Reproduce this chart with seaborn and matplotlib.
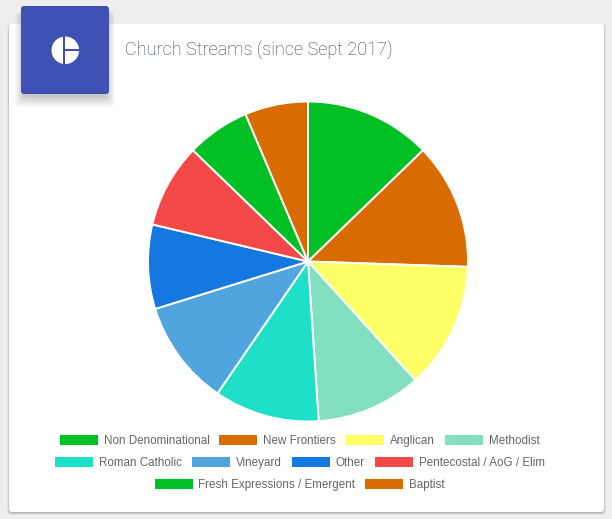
import seaborn as sns
import matplotlib.pyplot as plt
from matplotlib.patches import FancyBboxPatch, Circle, Rectangle

sns.set_theme(style="white")

streams = ['Non Denominational', 'New Frontiers', 'Anglican', 'Methodist',
           'Roman Catholic', 'Vineyard', 'Other', 'Pentecostal / AoG / Elim',
           'Fresh Expressions / Emergent', 'Baptist']
counts = [6, 6, 6, 5, 5, 5, 4, 4, 3, 3]
hex_colors = ['#00c024', '#d96c00', '#ffff66', '#82e0c0', '#1ee0c8',
              '#50a5de', '#1478e0', '#f24848', '#00c024', '#d96c00']
title = 'Church Streams (since Sept 2017)'

# legend layout in pixels: swatch left, text left, row
swatch_x = [60, 219, 346, 445, 55, 192, 292, 375, 155, 365]
text_x = [104, 263, 390, 489, 99, 236, 336, 419, 198, 409]
row_y = [440, 440, 440, 440, 462, 462, 462, 462, 484, 484]

W, H = 612, 519
palette = sns.color_palette(hex_colors)

fig = plt.figure(figsize=(W / 100, H / 100), dpi=100, facecolor='#eeeeee')

# page layer, coordinates are pixels of the picture
bg = fig.add_axes([0, 0, 1, 1], zorder=0)
bg.set_xlim(0, W)
bg.set_ylim(H, 0)
bg.axis('off')

for i in range(5):
    bg.add_patch(FancyBboxPatch((9 - i * 0.4, 25 - i * 0.2), 595 + i * 0.8, 488 + i * 0.6,
                                boxstyle='round,pad=0,rounding_size=4', fc='black', ec='none', alpha=0.05))
bg.add_patch(FancyBboxPatch((9, 24), 595, 488, boxstyle='round,pad=0,rounding_size=3', fc='white', ec='none'))

# soft shadow under the blue tile
for i in range(10):
    bg.add_patch(FancyBboxPatch((24 - i, 12), 82 + i * 2, 84 + i * 1.2,
                                boxstyle='round,pad=0,rounding_size=5', fc='black', ec='none', alpha=0.024))
bg.add_patch(FancyBboxPatch((21, 6), 88, 88, boxstyle='round,pad=0,rounding_size=3', fc='#3f51b5', ec='none'))

# chart icon
bg.add_patch(Circle((65.3, 50.3), 13.8, fc='white', ec='none'))
bg.add_patch(Rectangle((63, 35), 2, 30, fc='#3f51b5', ec='none'))
bg.add_patch(Rectangle((64, 49.4), 17, 1.5, fc='#3f51b5', ec='none'))

bg.text(125, 55, title, family='Roboto', fontweight='light', fontsize=13.1, color='#323d4c',
        ha='left', va='baseline')

for name, color, sx, tx, y in zip(streams, palette, swatch_x, text_x, row_y):
    bg.add_patch(Rectangle((sx, y - 5), 37.5, 10, fc=color, ec='none'))
    bg.text(tx, y + 4, name, family='Liberation Sans', fontsize=8.33, color='#666666',
            ha='left', va='baseline')

# pie centred on (308, 261.5) with a 160 px radius
ax = fig.add_axes([(308 - 161) / W, 1 - (261.5 + 161) / H, 322 / W, 322 / H], zorder=1)
ax.pie(counts, colors=palette, startangle=90, counterclock=False,
       wedgeprops={'edgecolor': 'white', 'linewidth': 1.4})
ax.set_xlim(-161 / 160, 161 / 160)
ax.set_ylim(-161 / 160, 161 / 160)
ax.patch.set_alpha(0)

plt.savefig('out.png', dpi=100, facecolor=fig.get_facecolor())
plt.close()
